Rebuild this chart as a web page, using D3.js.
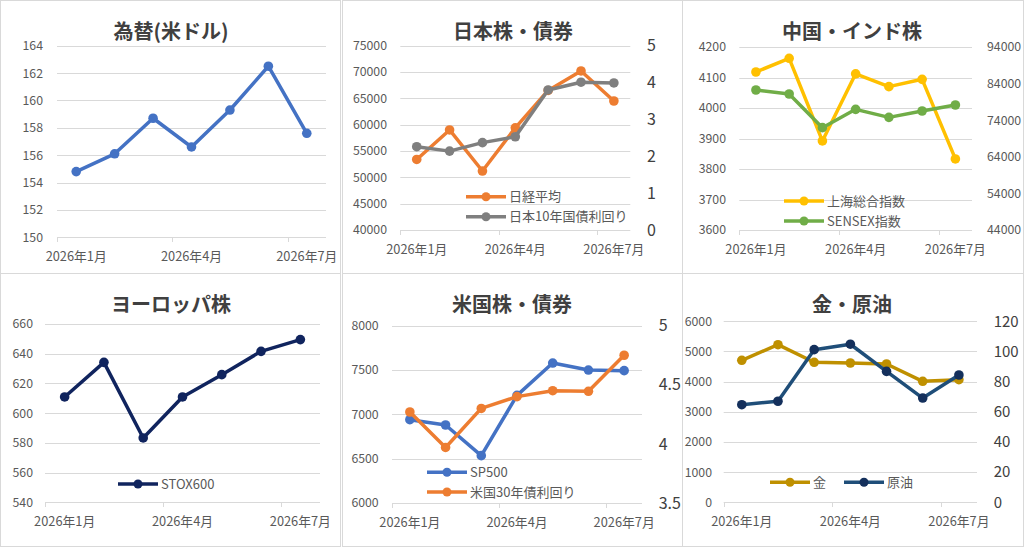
<!DOCTYPE html>
<html>
<head>
<meta charset="utf-8">
<script src="https://cdn.jsdelivr.net/npm/d3@7"></script>
<style>
  body { margin: 0; background: #fff; }
  svg { display: block; font-family: "Noto Sans CJK JP", "Noto Sans", sans-serif; }
</style>
</head>
<body>
<svg id="chart" width="1024" height="547"></svg>
<script>
// months on every x axis
var months = ["2026年1月", "2026年2月", "2026年3月", "2026年4月", "2026年5月", "2026年6月", "2026年7月"];
var monthLabels = ["2026年1月", "2026年4月", "2026年7月"];

// series
var usdjpy = [154.8, 156.1, 158.7, 156.6, 159.3, 162.5, 157.6];
var nikkei = [53400, 59000, 51200, 59400, 66500, 70200, 64500];
var jgb10 = [2.26, 2.14, 2.37, 2.53, 3.80, 4.01, 3.99];
var shanghai = [4118, 4163, 3892, 4112, 4070, 4094, 3833];
var sensex = [82250, 81160, 71960, 76970, 74780, 76510, 78150];
var stox600 = [610.9, 634.2, 583.3, 610.9, 625.9, 641.6, 649.5];
var sp500 = [6940, 6880, 6534, 7214, 7579, 7500, 7493];
var ust30 = [4.27, 3.97, 4.30, 4.40, 4.45, 4.445, 4.75];
var gold = [4707, 5225, 4641, 4618, 4585, 4011, 4065];
var crude = [64.7, 67.0, 101.2, 104.8, 86.8, 69.1, 84.4];

// tick labels
var ticksFx = [150, 152, 154, 156, 158, 160, 162, 164];
var ticksNikkei = [40000, 45000, 50000, 55000, 60000, 65000, 70000, 75000];
var ticksJgb = [0, 1, 2, 3, 4, 5];
var ticksShanghai = [3600, 3700, 3800, 3900, 4000, 4100, 4200];
var ticksSensex = [44000, 54000, 64000, 74000, 84000, 94000];
var ticksStox = [540, 560, 580, 600, 620, 640, 660];
var ticksSp = [6000, 6500, 7000, 7500, 8000];
var ticksUst = [3.5, 4, 4.5, 5];
var ticksGold = [0, 1000, 2000, 3000, 4000, 5000, 6000];
var ticksCrude = [0, 20, 40, 60, 80, 100, 120];

var svg = d3.select("#chart");

// panel frames
var frames = [[0, 0], [342, 0], [682, 0], [0, 273], [342, 273], [682, 273]];
svg.selectAll(".frame")
    .data(frames)
    .enter()
    .append("rect")
    .attr("class", "frame")
    .attr("x", d => d[0] + 0.5)
    .attr("y", d => d[1] + 0.5)
    .attr("width", d => (d[0] == 682 ? 341 : 340))
    .attr("height", 273)
    .attr("fill", "#fff")
    .attr("stroke", "#d9d9d9");

function drawPanel(p) {
    var g = svg.append("g");

    var x = d3.scaleBand().domain(months).range([p.left, p.right]);
    var cx = d => x(d) + x.bandwidth() / 2;

    var yL = d3.scaleLinear().domain(d3.extent(p.leftTicks)).range([p.bottom, p.top]);
    var yR = p.rightTicks ? d3.scaleLinear().domain(d3.extent(p.rightTicks)).range([p.bottom, p.top]) : null;

    // gridlines
    g.selectAll(".grid")
        .data(p.leftTicks)
        .enter()
        .append("line")
        .attr("x1", p.left)
        .attr("x2", p.right)
        .attr("y1", d => Math.round(yL(d)) + 0.5)
        .attr("y2", d => Math.round(yL(d)) + 0.5)
        .attr("stroke", "#d9d9d9")
        .attr("stroke-width", 1);

    // tick marks at every third month boundary
    g.selectAll(".xtick")
        .data([0, 3, 6])
        .enter()
        .append("line")
        .attr("x1", d => Math.round(p.left + d * x.bandwidth()) + 0.5)
        .attr("x2", d => Math.round(p.left + d * x.bandwidth()) + 0.5)
        .attr("y1", Math.round(p.bottom))
        .attr("y2", Math.round(p.bottom) + 5)
        .attr("stroke", "#d9d9d9");

    // x labels
    g.selectAll(".xlab")
        .data(monthLabels)
        .enter()
        .append("text")
        .attr("x", d => cx(d))
        .attr("y", p.bottom + 24)
        .attr("text-anchor", "middle")
        .attr("fill", "#595959")
        .style("font-size", "12.8px")
        .text(d => d);

    // left axis labels
    var axL = g.append("g")
        .attr("transform", `translate(${p.labelL},0)`)
        .call(d3.axisLeft(yL).tickValues(p.leftTicks).tickSize(0).tickPadding(0).tickFormat(d => d));
    axL.select(".domain").remove();
    axL.selectAll("text")
        .attr("fill", "#595959")
        .style("font-size", "12.3px")
        .style("font-family", "'Noto Sans CJK JP', sans-serif");

    if (yR) {
        var axR = g.append("g")
            .attr("transform", `translate(${p.labelR},0)`)
            .call(d3.axisRight(yR).tickValues(p.rightTicks).tickSize(0).tickPadding(0).tickFormat(d => d));
        axR.select(".domain").remove();
        axR.selectAll("text")
            .attr("fill", p.rightColor || "#595959")
            .style("font-size", p.rightSize || "12.3px")
            .style("font-family", "'Noto Sans CJK JP', sans-serif");
    }

    // series
    p.series.forEach(function(s) {
        var y = s.axis == "right" ? yR : yL;
        var line = d3.line()
            .x((d, i) => cx(months[i]))
            .y(d => y(d));
        g.append("path")
            .datum(s.values)
            .attr("fill", "none")
            .attr("stroke", s.color)
            .attr("stroke-width", 3.5)
            .attr("stroke-linejoin", "round")
            .attr("d", line);
        g.selectAll(null)
            .data(s.values)
            .enter()
            .append("circle")
            .attr("cx", (d, i) => cx(months[i]))
            .attr("cy", d => y(d))
            .attr("r", 4.8)
            .attr("fill", s.marker || s.color);
    });

    // legend
    p.series.forEach(function(s) {
        if (!s.legend) return;
        var L = s.legend;
        g.append("line")
            .attr("x1", L.x)
            .attr("x2", L.x + 40)
            .attr("y1", L.y)
            .attr("y2", L.y)
            .attr("stroke", s.color)
            .attr("stroke-width", 3.5);
        g.append("circle")
            .attr("cx", L.x + 20)
            .attr("cy", L.y)
            .attr("r", 4.5)
            .attr("fill", s.marker || s.color);
        g.append("text")
            .attr("x", L.x + 43)
            .attr("y", L.y + 4.5)
            .attr("fill", "#595959")
            .style("font-size", "13px")
            .text(s.name);
    });

    // title
    g.append("text")
        .attr("x", p.titleX)
        .attr("y", p.titleY)
        .attr("text-anchor", "middle")
        .attr("fill", "#404040")
        .style("font-size", "20px")
        .style("font-weight", "bold")
        .text(p.title);
}

drawPanel({
    title: "為替(米ドル)", titleX: 171, titleY: 39,
    left: 57, right: 326, top: 45.7, bottom: 237.3,
    leftTicks: ticksFx, labelL: 43,
    series: [{ name: "為替", values: usdjpy, color: "#4472C4" }]
});

drawPanel({
    title: "日本株・債券", titleX: 513, titleY: 39,
    left: 400.3, right: 630.3, top: 45.7, bottom: 230,
    leftTicks: ticksNikkei, labelL: 387,
    rightTicks: ticksJgb, labelR: 647, rightSize: "16px", rightColor: "#404040",
    series: [
        { name: "日経平均", values: nikkei, color: "#ED7D31", legend: { x: 466, y: 196.7 } },
        { name: "日本10年国債利回り", values: jgb10, color: "#7F7F7F", axis: "right", legend: { x: 466, y: 216.7 } }
    ]
});

drawPanel({
    title: "中国・インド株", titleX: 852, titleY: 39,
    left: 739.3, right: 972, top: 47, bottom: 230,
    leftTicks: ticksShanghai, labelL: 726,
    rightTicks: ticksSensex, labelR: 987,
    series: [
        { name: "上海総合指数", values: shanghai, color: "#FFC000", legend: { x: 784, y: 201 } },
        { name: "SENSEX指数", values: sensex, color: "#70AD47", axis: "right", legend: { x: 784, y: 221 } }
    ]
});

drawPanel({
    title: "ヨーロッパ株", titleX: 171, titleY: 312,
    left: 45, right: 320, top: 324, bottom: 502.3,
    leftTicks: ticksStox, labelL: 33,
    series: [{ name: "STOX600", values: stox600, color: "#10245E", legend: { x: 118, y: 484 } }]
});

drawPanel({
    title: "米国株・債券", titleX: 512, titleY: 312,
    left: 392, right: 642, top: 325.7, bottom: 503,
    leftTicks: ticksSp, labelL: 378.7,
    rightTicks: ticksUst, labelR: 658.7, rightSize: "16px", rightColor: "#404040",
    series: [
        { name: "SP500", values: sp500, color: "#4472C4", legend: { x: 427, y: 472.3 } },
        { name: "米国30年債利回り", values: ust30, color: "#ED7D31", axis: "right", legend: { x: 427, y: 492 } }
    ]
});

drawPanel({
    title: "金・原油", titleX: 852, titleY: 312,
    left: 723.7, right: 977, top: 321.3, bottom: 502.3,
    leftTicks: ticksGold, labelL: 712,
    rightTicks: ticksCrude, labelR: 993.7, rightSize: "15px", rightColor: "#404040",
    series: [
        { name: "金", values: gold, color: "#BF9000", legend: { x: 770, y: 482.3 } },
        { name: "原油", values: crude, color: "#1F4E79", marker: "#14305C", axis: "right", legend: { x: 844, y: 482.3 } }
    ]
});
</script>
</body>
</html>
